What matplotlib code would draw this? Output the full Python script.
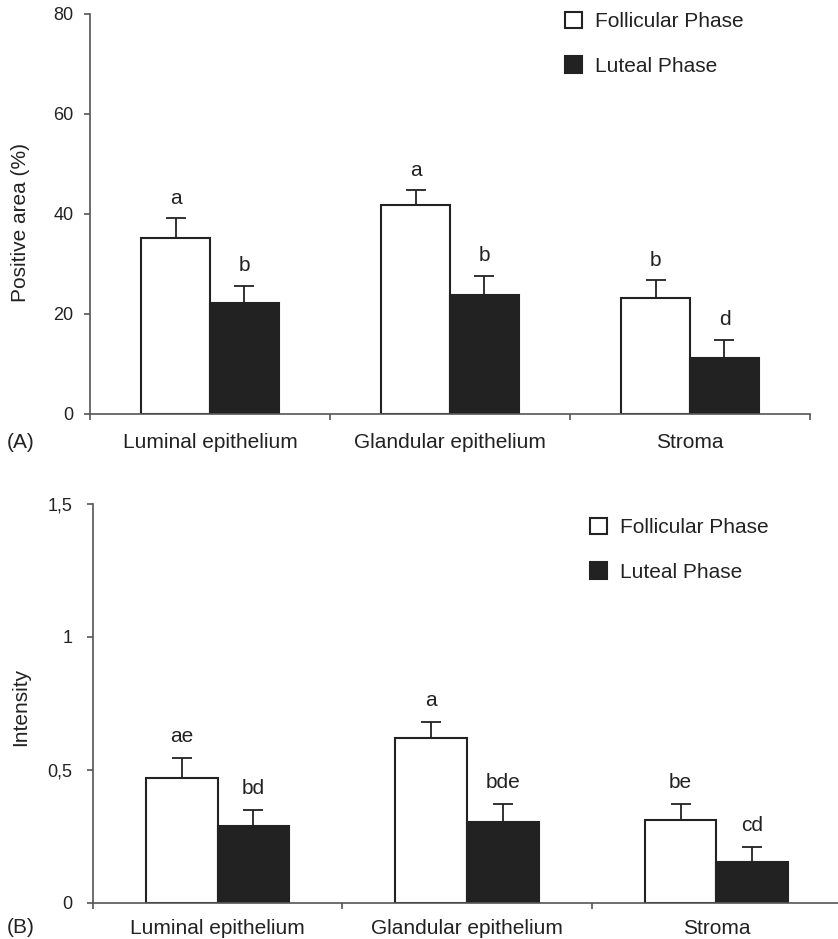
import matplotlib.pyplot as plt
import numpy as np

plt.rcParams['font.family'] = ['Liberation Sans', 'DejaVu Sans']

categories = ['Luminal epithelium', 'Glandular epithelium', 'Stroma']
series_names = ['Follicular Phase', 'Luteal Phase']

# (A) positive area (%)
area_follicular = [35.2, 41.7, 23.1]
area_follicular_err = [3.9, 3.0, 3.6]
area_luteal = [22.1, 23.7, 11.3]
area_luteal_err = [3.5, 3.9, 3.5]
area_letters_follicular = ['a', 'a', 'b']
area_letters_luteal = ['b', 'b', 'd']

# (B) intensity
int_follicular = [0.468, 0.621, 0.311]
int_follicular_err = [0.075, 0.058, 0.060]
int_luteal = [0.289, 0.305, 0.153]
int_luteal_err = [0.059, 0.066, 0.058]
int_letters_follicular = ['ae', 'a', 'be']
int_letters_luteal = ['bd', 'bde', 'cd']

area_ticks = [0, 20, 40, 60, 80]
area_ticklabels = ['0', '20', '40', '60', '80']
int_ticks = [0, 0.5, 1, 1.5]
int_ticklabels = ['0', '0,5', '1', '1,5']

DARK = '#222222'
SPINE = '#555555'
W = 0.287


def draw_panel(ax, fol, fol_err, lut, lut_err, let_f, let_l, ylim, ticks, ticklabels,
               ylabel, letter_off, cat_pad, tick_pad):
    x = np.arange(len(categories)) + 0.5
    b1 = ax.bar(x - W / 2, fol, W, color='white', edgecolor=DARK, linewidth=1.5,
                label=series_names[0], zorder=2)
    b2 = ax.bar(x + W / 2, lut, W, color=DARK, edgecolor=DARK, linewidth=1.5,
                label=series_names[1], zorder=2)
    ax.errorbar(x - W / 2, fol, yerr=[np.zeros(len(fol)), fol_err], fmt='none',
                ecolor=DARK, elinewidth=1.3, capsize=7, capthick=1.3, zorder=3)
    ax.errorbar(x + W / 2, lut, yerr=[np.zeros(len(lut)), lut_err], fmt='none',
                ecolor=DARK, elinewidth=1.3, capsize=7, capthick=1.3, zorder=3)
    for xi, yi, ei, t in zip(x - W / 2, fol, fol_err, let_f):
        ax.annotate(t, (xi, yi + ei), xytext=(0, letter_off), textcoords='offset points',
                    ha='center', va='baseline', fontsize=15, color=DARK)
    for xi, yi, ei, t in zip(x + W / 2, lut, lut_err, let_l):
        ax.annotate(t, (xi, yi + ei), xytext=(0, letter_off), textcoords='offset points',
                    ha='center', va='baseline', fontsize=15, color=DARK)

    ax.set_xlim(0, len(categories))
    ax.set_ylim(*ylim)
    ax.set_xticks(np.arange(len(categories) + 1))
    ax.set_xticklabels([])
    ax.set_xticks(x, minor=True)
    ax.set_xticklabels(categories, minor=True, fontsize=15, color=DARK)
    ax.tick_params(axis='x', which='major', direction='out', length=4.5, width=1.2, color=SPINE)
    ax.tick_params(axis='x', which='minor', length=0, pad=cat_pad)
    ax.set_yticks(ticks)
    ax.set_yticklabels(ticklabels, fontsize=13, color=DARK)
    ax.tick_params(axis='y', direction='out', length=4.5, width=1.2, color=SPINE, pad=tick_pad)
    for s in ['top', 'right']:
        ax.spines[s].set_visible(False)
    for s in ['left', 'bottom']:
        ax.spines[s].set_color(SPINE)
        ax.spines[s].set_linewidth(1.2)
    ax.set_ylabel(ylabel, fontsize=15, color=DARK)
    return b1, b2


fig = plt.figure(figsize=(8.38, 9.39), dpi=100)
axA = fig.add_axes([90 / 838, 1 - 414 / 939, 720 / 838, 400 / 939])
axB = fig.add_axes([93 / 838, 1 - 902.7 / 939, 748 / 838, 398.7 / 939])

hA = draw_panel(axA, area_follicular, area_follicular_err, area_luteal, area_luteal_err,
                area_letters_follicular, area_letters_luteal, (0, 80), area_ticks,
                area_ticklabels, 'Positive area (%)', 10.5, 13.5, 7.5)
hB = draw_panel(axB, int_follicular, int_follicular_err, int_luteal, int_luteal_err,
                int_letters_follicular, int_letters_luteal, (0, 1.5), int_ticks,
                int_ticklabels, 'Intensity', 11.5, 12, 10.5)

for ax, h, (lx, ly) in [(axA, hA, (565, 12)), (axB, hB, (590, 518))]:
    ax.legend(h, series_names, loc='upper left', bbox_to_anchor=(lx / 838, 1 - ly / 939),
              bbox_transform=fig.transFigure, frameon=False, fontsize=15,
              handlelength=0.82, handleheight=0.82, handletextpad=0.6,
              labelspacing=1.2, borderpad=0, borderaxespad=0, labelcolor=DARK)

axA.yaxis.set_label_coords(-(90 - 30) / 720, 0.48)
axB.yaxis.set_label_coords(-(93 - 30) / 748, 0.49)

fig.text(7 / 838, 1 - 433 / 939, '(A)', fontsize=15, color=DARK, va='top', ha='left')
fig.text(7 / 838, 1 - 918 / 939, '(B)', fontsize=15, color=DARK, va='top', ha='left')

fig.savefig('out.png', dpi=100)
